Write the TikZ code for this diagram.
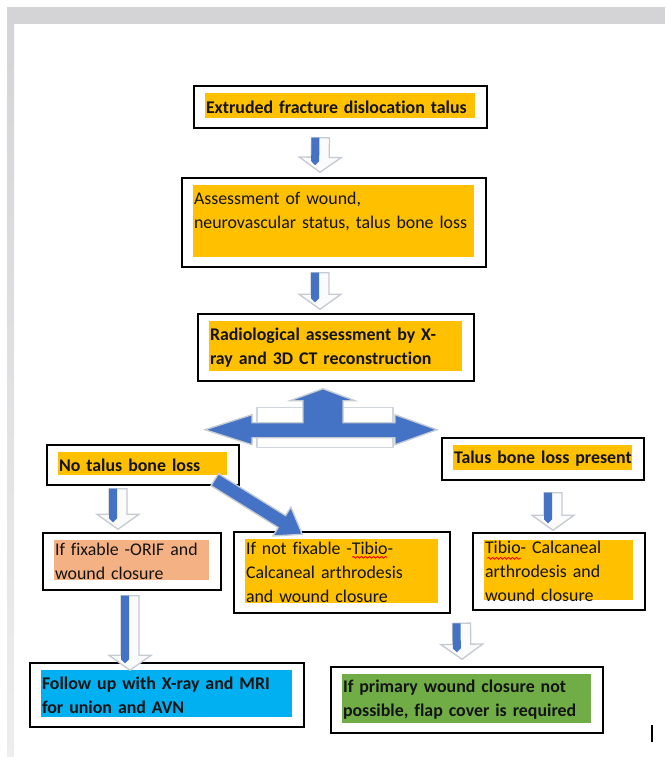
\documentclass[tikz,border=0pt]{standalone}
\usepackage{fontspec}
\setmainfont{Carlito}[Ligatures=NoCommon]
\usetikzlibrary{calc,decorations.pathmorphing}
\definecolor{gold}{HTML}{FFC000}
\definecolor{salmon}{HTML}{F4B183}
\definecolor{sky}{HTML}{00B0F0}
\definecolor{leaf}{HTML}{70AD47}
\definecolor{arrowblue}{HTML}{4472C4}
\definecolor{bevel}{HTML}{C5CBD3}
\definecolor{paper}{HTML}{D4D4D6}
\definecolor{ink}{HTML}{141414}

% hollow block arrow with a blue shaft, from #1 to #2
\newcommand\blockdown[2]{%
  \coordinate (bs) at #1;
  \coordinate (be) at #2;
  \coordinate (bh) at ($(be)!11.25pt!(bs)$);
  \coordinate (bb) at ($(bh)!3pt!(be)$);
  \coordinate (bt) at ($(bh)!6pt!(be)$);
  \filldraw[back] ($(bs)!6.75pt!-90:(be)$) -- ($(bs)!6.75pt!90:(be)$)
    -- ($(bh)!6.75pt!90:(be)$) -- ($(bh)!15.75pt!90:(be)$) -- (be)
    -- ($(bh)!15.75pt!-90:(be)$) -- ($(bh)!6.75pt!-90:(be)$) -- cycle;
  \fill[arrowblue] ($(bs)!6.75pt!-90:(be)$) -- ($(bs)!0.75pt!-90:(be)$)
    -- ($(bb)!0.75pt!-90:(be)$) -- ($(bt)!3.75pt!-90:(be)$)
    -- ($(bb)!6.75pt!-90:(be)$) -- cycle;
}

\begin{document}
\begin{tikzpicture}[x=0.75pt,y=-0.75pt,
  box/.style={draw=black,line width=1.1pt,fill=white,inner xsep=9pt,inner ysep=2pt,
              align=left,text=ink,font=\fontsize{13.4}{18}\selectfont},
  bold/.style={font=\fontsize{13.4}{18}\selectfont\bfseries},
  hl/.style={path picture={\fill[#1]
      ([xshift=8.25pt,yshift=-5.25pt]path picture bounding box.north west) rectangle
      ([xshift=-9pt,yshift=7.5pt]path picture bounding box.south east);}},
  wh/.code 2 args={\pgfmathsetmacro\bw{(#1-24)*0.75}%
      \edef\next{\noexpand\tikzset{minimum width=#1*0.75pt,minimum height=#2*0.75pt,text width=\bw pt}}\next},
  back/.style={draw=bevel,line width=1pt,fill=white!93!bevel},
  diag/.style={draw=bevel,line width=1pt,fill=arrowblue},
  wavy/.style={red,line width=0.6pt,decorate,decoration={snake,amplitude=0.7pt,segment length=3pt}}]
\useasboundingbox (0,0) rectangle (665,757);
% page edge of the screenshot
\fill[paper] (7,7) rectangle (665,24);
\shade[top color=paper,bottom color=paper!40] (7,24) rectangle (14,757);

\node[box,bold,hl=gold,wh={293}{42}] (b1) at (340.5,107) {Extruded fracture dislocation talus};
\node[box,hl=gold,wh={304}{89}] (b2) at (334,222.5) {Assessment of wound,\\neurovascular status, talus bone loss\\\mbox{}};
\node[box,bold,hl=gold,wh={276}{67}] (b3) at (336,347.5) {Radiological assessment by X-\\ray and 3D CT reconstruction};
\node[box,bold,hl=gold,wh={192}{40}] (b4) at (143,465) {No talus bone loss};
\node[box,bold,hl=gold,wh={202}{42}] (b5) at (543,459) {Talus bone loss present};
\node[box,hl=salmon,wh={178}{57}] (b6) at (132,561.5) {If fixable -ORIF and\\wound closure};
\node[box,hl=gold,wh={216}{81}] (b7) at (342,572.5) {If not fixable -Tibio-\\Calcaneal arthrodesis\\and wound closure};
\node[box,hl=gold,wh={172}{77}] (b8) at (559,571.5) {Tibio- Calcaneal\\arthrodesis and\\wound closure};
\node[box,bold,hl=sky,wh={274}{64}] (b9) at (167,695) {Follow up with X-ray and MRI\\for union and AVN};
\node[box,bold,hl=leaf,wh={272}{66}] (b10) at (467,700) {If primary wound closure not\\possible, flap cover is required};

% spelling marks
\draw[wavy] ([shift={(119,26)}]b7.north west) -- ++(35,0);
\draw[wavy] ([shift={(15,26)}]b8.north west) -- ++(34,0);

\blockdown{([shift={(-20,9)}]b1.south)}{([shift={(-14,-5)}]b2.north)}
\blockdown{([shift={(-14,5)}]b2.south)}{([shift={(-16,-4)}]b3.north)}
\blockdown{([shift={(-25,3)}]b4.south)}{([shift={(-14,-3)}]b6.north)}
\blockdown{([shift={(10,12)}]b5.south)}{([shift={(-6,-2)}]b8.north)}
\blockdown{([shift={(-2,5)}]b6.south)}{([shift={(-37,8)}]b9.north)}
\blockdown{($(b7.south east)!0.5!(b8.south west)+(0,11)$)}{([shift={(-5,-7)}]b10.north)}

% split arrow under the radiology box
\coordinate (split) at ([shift={(-13,48)}]b3.south);
\begin{scope}[shift={(split)}]
\filldraw[back,draw=bevel!80,fill=white] (-66,-22) rectangle (70,18);
\filldraw[diag] (-118,0) -- (-71,-15) -- (-71,-7) -- (-20,-7) -- (-20,-29) -- (-33,-29)
  -- (0,-41) -- (32,-29) -- (20,-29) -- (20,-7) -- (72,-7) -- (72,-15) -- (114,0)
  -- (72,15) -- (72,8) -- (-71,8) -- (-71,15) -- cycle;
\end{scope}

% diagonal arrow to the not fixable branch
\coordinate (ds) at ([shift={(-25,-6)}]b4.south east);
\coordinate (de) at ([shift={(69,3)}]b7.north west);
\coordinate (dh) at ($(de)!18pt!(ds)$);
\filldraw[diag] ($(ds)!5.25pt!-90:(de)$) -- ($(ds)!5.25pt!90:(de)$) -- ($(dh)!5.25pt!90:(de)$)
  -- ($(dh)!12.75pt!90:(de)$) -- (de) -- ($(dh)!12.75pt!-90:(de)$) -- ($(dh)!5.25pt!-90:(de)$) -- cycle;

\draw[line width=0.9pt] (652,725) -- (652,742);
\end{tikzpicture}
\end{document}
